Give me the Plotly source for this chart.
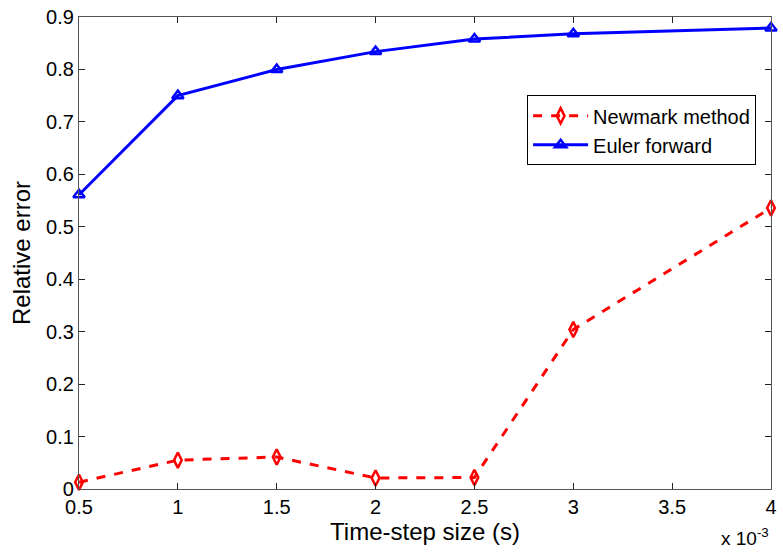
import plotly.graph_objects as go

step_ms = [0.5, 1, 1.5, 2, 2.5, 3, 4]
newmark = [0.013, 0.055, 0.061, 0.021, 0.022, 0.304, 0.536]
euler = [0.561, 0.750, 0.800, 0.834, 0.858, 0.868, 0.879]
x_ticks = [0.5, 1, 1.5, 2, 2.5, 3, 3.5, 4]
x_tick_text = ["0.5", "1", "1.5", "2", "2.5", "3", "3.5", "4"]
y_ticks = [0, 0.1, 0.2, 0.3, 0.4, 0.5, 0.6, 0.7, 0.8, 0.9]
y_tick_text = ["0", "0.1", "0.2", "0.3", "0.4", "0.5", "0.6", "0.7", "0.8", "0.9"]

FONT = "Liberation Sans, Arial, Helvetica"

fig = go.Figure()
fig.add_trace(go.Scatter(
    x=step_ms, y=newmark, name="Newmark method", mode="lines+markers",
    line=dict(color="#ff0000", width=3, dash="dash"),
    marker=dict(symbol="diamond-tall-open", size=11, color="#ff0000", line=dict(width=2.5)),
    cliponaxis=False,
))
fig.add_trace(go.Scatter(
    x=step_ms, y=euler, name="Euler forward", mode="lines+markers",
    line=dict(color="#0000ff", width=3),
    marker=dict(symbol="triangle-up-open", size=10, color="#0000ff", line=dict(width=2.5)),
    cliponaxis=False,
))

axis_common = dict(
    showgrid=False, zeroline=False, showline=True, linecolor="#555555", linewidth=1.2,
    mirror="ticks", ticks="inside", ticklen=6, tickcolor="#222222", tickwidth=1,
    tickfont=dict(family=FONT, size=20, color="#000000"),
)
fig.update_xaxes(range=[0.5, 4], tickvals=x_ticks, ticktext=x_tick_text,
                 title=dict(text="Time-step size (s)", font=dict(family=FONT, size=24, color="#000000"), standoff=2),
                 **axis_common)
fig.update_yaxes(range=[0, 0.9], tickvals=y_ticks, ticktext=y_tick_text,
                 title=dict(text="Relative error", font=dict(family=FONT, size=24, color="#000000"), standoff=8),
                 **axis_common)

fig.add_annotation(text="x 10<sup>-3</sup>", xref="paper", yref="paper", x=1.0, y=-0.072,
                   xanchor="right", yanchor="top", showarrow=False,
                   font=dict(family=FONT, size=19, color="#000000"))

fig.update_layout(
    width=783, height=554, plot_bgcolor="white", paper_bgcolor="white",
    margin=dict(l=79, r=6, t=15, b=65),
    legend=dict(x=0.9785, y=0.834, xanchor="right", yanchor="top",
                bgcolor="white", bordercolor="#000000", borderwidth=1,
                font=dict(family=FONT, size=20, color="#000000"),
                tracegroupgap=0, itemwidth=55),
    showlegend=True,
)
fig.write_html("out.html")
